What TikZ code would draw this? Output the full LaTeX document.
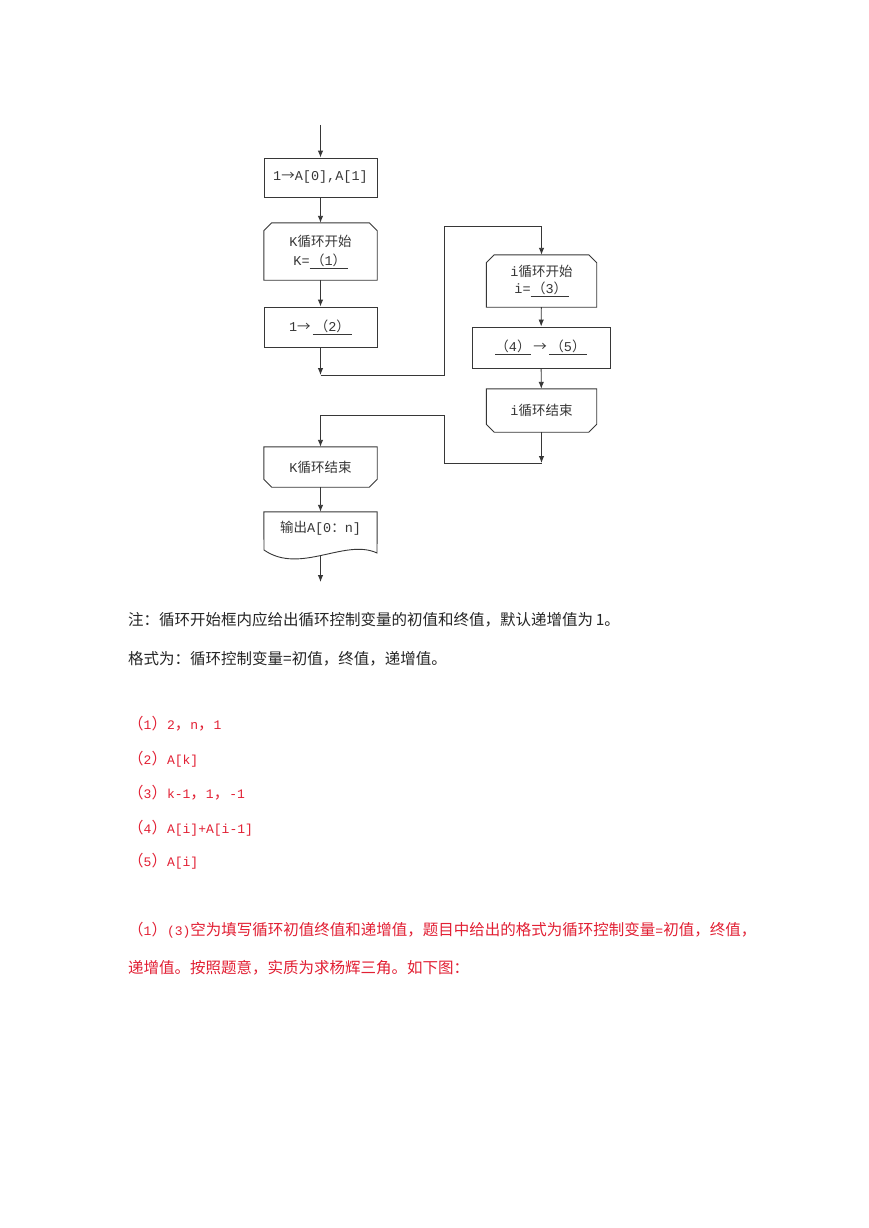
\documentclass[tikz,border=0pt]{standalone}
\usepackage{fontspec}
\setmainfont{Noto Sans CJK SC}
\newfontfamily\bmono{Liberation Mono}
\newfontfamily\amono[Scale=0.84]{Liberation Mono}
\newcommand{\bm}[1]{{\bmono #1}}
\newcommand{\am}[1]{{\amono #1}}
\newcommand{\ul}[2]{\underline{\makebox[#1]{#2}}}
\usetikzlibrary{arrows.meta}
\definecolor{ansred}{RGB}{226,32,52}
\definecolor{linegray}{RGB}{55,55,55}
\tikzset{
  box/.style={rectangle, inner sep=0pt, font=\fontsize{13.5}{19}\selectfont, text=linegray, align=center},
  rectbox/.style={box, draw=linegray, line width=0.9pt},
  outline/.style={draw=linegray, line width=0.9pt, line join=miter},
  arr/.style={draw=linegray, line width=0.9pt, -{Latex[length=7pt,width=5.5pt]}},
  body/.style={anchor=west, inner sep=0pt, font=\fontsize{15.5}{18}\selectfont, text=black!85},
  ans/.style={body, text=ansred},
}
\begin{document}
\begin{tikzpicture}[x=1pt,y=-1pt]
\useasboundingbox[fill=white] (0,0) rectangle (869,1228);

% left column
\coordinate (top) at (320.5,125);
\node[rectbox, minimum width=113pt, minimum height=39pt] (b1) at (320.5,177.5) {\bm{1}→\bm{A[0],A[1]}};
\node[box, minimum width=113pt, minimum height=57pt] (ks) at (320.5,251.5) {\bm{K}循环开始\\\bm{K=}\ul{38pt}{（\bm{1}）}};
\draw[outline] (ks.south west) -- ([yshift=-8pt]ks.north west) -- ([xshift=8pt]ks.north west) -- ([xshift=-8pt]ks.north east) -- ([yshift=-8pt]ks.north east) -- (ks.south east) -- cycle;
\node[rectbox, minimum width=113pt, minimum height=40pt] (b2) at (320.5,327) {\bm{1}→\,\ul{39pt}{（\bm{2}）}};
\coordinate (j1) at (320.5,375);
\coordinate (j3) at (444,226);

% right column
\node[box, minimum width=110pt, minimum height=52pt, font=\fontsize{13.5}{17}\selectfont] (is) at (541.5,281) {\bm{i}循环开始\\\bm{i=}\ul{38pt}{（\bm{3}）}};
\draw[outline] (is.south west) -- ([yshift=-8pt]is.north west) -- ([xshift=8pt]is.north west) -- ([xshift=-8pt]is.north east) -- ([yshift=-8pt]is.north east) -- (is.south east) -- cycle;
\node[rectbox, minimum width=138pt, minimum height=41pt] (b45) at (541,347.5) {\ul{36pt}{（\bm{4}）}\,→\,\ul{38pt}{（\bm{5}）}};
\node[box, minimum width=110pt, minimum height=43pt] (ie) at (541.5,410.5) {\bm{i}循环结束};
\draw[outline] (ie.north west) -- (ie.north east) -- ([yshift=8pt]ie.south east) -- ([xshift=-8pt]ie.south east) -- ([xshift=8pt]ie.south west) -- ([yshift=8pt]ie.south west) -- cycle;
\coordinate (j4) at (541.5,463);
\coordinate (j5) at (444,415);

% bottom left
\node[box, minimum width=113pt, minimum height=40pt] (ke) at (320.5,467) {\bm{K}循环结束};
\draw[outline] (ke.north west) -- (ke.north east) -- ([yshift=8pt]ke.south east) -- ([xshift=-8pt]ke.south east) -- ([xshift=8pt]ke.south west) -- ([yshift=8pt]ke.south west) -- cycle;
\node[box, minimum width=113pt, minimum height=32pt] (out) at (320.5,528) {输出\bm{A[0}：\bm{n]}};
\draw[outline] (out.north west) -- (out.north east) -- (377,553) .. controls (345,538) and (300,575) .. (264,550) -- cycle;
\coordinate (ow) at (320.5,556);
\coordinate (bot) at (320.5,582);

% connectors
\draw[arr] (top) -- (b1);
\draw[arr] (b1) -- (ks);
\draw[arr] (ks) -- (b2);
\draw[arr] (b2) -- (j1);
\draw[arr] (j1) -| (j3) -| (is.north);
\draw[arr] (is) -- (b45);
\draw[arr] (b45) -- (ie);
\draw[arr] (ie) -- (j4);
\draw[arr] (j4) -| (j5) -| (ke.north);
\draw[arr] (ke) -- (out);
\draw[arr] (ow) -- (bot);

% text
\node[body] (n1) at (128,620) {注：循环开始框内应给出循环控制变量的初值和终值，默认递增值为\,1。};
\node[body] (n2) at (128,659) {格式为：循环控制变量=初值，终值，递增值。};
\node[ans] (a1) at (128,724) {（\am{1}）\am{2}，\am{n}，\am{1}};
\node[ans] (a2) at (128,759) {（\am{2}）\am{A[k]}};
\node[ans] (a3) at (128,793) {（\am{3}）\am{k-1}，\am{1}，\am{-1}};
\node[ans] (a4) at (128,828) {（\am{4}）\am{A[i]+A[i-1]}};
\node[ans] (a5) at (128,861) {（\am{5}）\am{A[i]}};
\node[ans] (e1) at (128,930) {（\am{1}）\am{(3)}空为填写循环初值终值和递增值，题目中给出的格式为循环控制变量\am{=}初值，终值，};
\node[ans] (e2) at (128,968) {递增值。按照题意，实质为求杨辉三角。如下图：};
\end{tikzpicture}
\end{document}
